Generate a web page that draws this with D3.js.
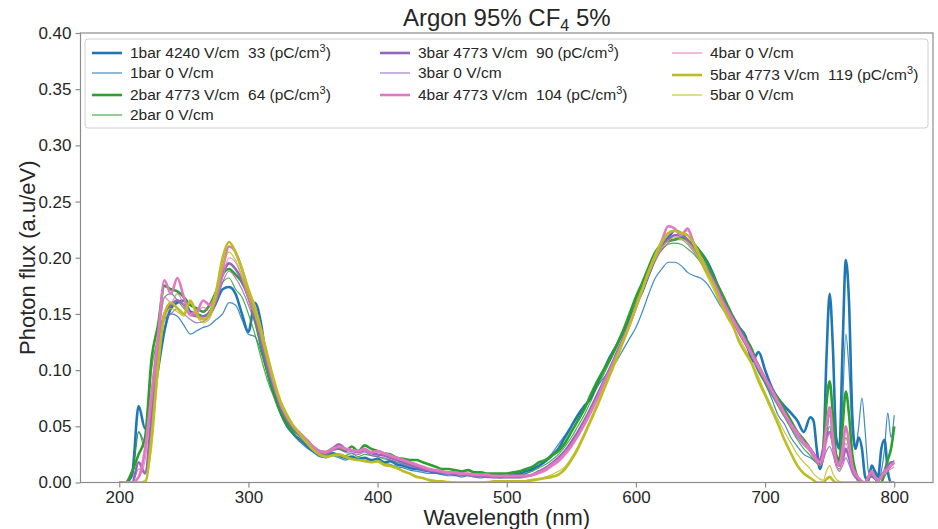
<!DOCTYPE html>
<html lang="en">
<head>
<meta charset="UTF-8">
<title>Argon 95% CF4 5%</title>
<script src="https://d3js.org/d3.v7.min.js"></script>
<style>
  body { margin: 0; background: #fff; }
  svg text { font-family: "Liberation Sans", Arial, sans-serif; fill: #262626; }
</style>
</head>
<body>
<div id="chart"></div>
<script>
// sampling grid (nm): 5 nm steps, 2.5 nm in the noisy tail
const wavelength = d3.range(200, 736, 5).concat(d3.range(737.5, 800.1, 2.5));

const xTicks = [200, 300, 400, 500, 600, 700, 800];
const yTicks = [0, 0.05, 0.10, 0.15, 0.20, 0.25, 0.30, 0.35, 0.40];

// photon flux (a.u/eV)
const flux1bar4240 = [
  0, 0, .008, .068, .048, .062, .100, .135, .155, .160,
  .162, .152, .150, .148, .150, .160, .172, .174, .168, .150,
  .134, .160, .140, .098, .078, .062, .050, .043, .038, .033,
  .028, .025, .024, .026, .024, .022, .023, .021, .022, .020,
  .021, .018, .019, .016, .015, .013, .012, .011, .010, .009,
  .008, .009, .007, .008, .007, .006, .007, .006, .006, .007,
  .006, .007, .008, .010, .012, .015, .019, .024, .030, .040,
  .050, .060, .068, .075, .088, .100, .112, .122, .133, .145,
  .158, .170, .185, .200, .212, .218, .224, .222, .215, .210,
  .205, .197, .185, .170, .158, .147, .138, .130, .108, .116,
  .100, .085, .075, .068, .062, .055, .045, .058,
  .055, .030, .012, .025, .110, .168, .120, .040, .030, .120, .198, .160, .060,
  .030, .040, .030, .005, .002, .015, .010, .005, .030, .038, .010, 0, 0
];
const flux1bar0 = [
  0, 0, .005, .045, .036, .070, .115, .145, .150, .148,
  .140, .132, .135, .138, .140, .145, .150, .160, .158, .145,
  .132, .130, .115, .095, .078, .062, .050, .042, .036, .031,
  .027, .023, .022, .024, .022, .020, .022, .020, .020, .018,
  .019, .017, .016, .014, .013, .011, .010, .009, .008, .008,
  .007, .006, .006, .005, .006, .005, .004, .005, .005, .004,
  .005, .005, .006, .008, .011, .015, .020, .026, .034, .042,
  .050, .058, .066, .075, .085, .093, .100, .108, .118, .128,
  .138, .152, .168, .182, .190, .196, .196, .193, .187, .184,
  .182, .177, .168, .158, .150, .143, .132, .122, .110, .098,
  .088, .075, .060, .052, .040, .032, .025, .022,
  .020, .018, .015, .020, .040, .060, .035, .015, .020, .070, .132, .100, .045,
  .030, .050, .075, .045, .010, .005, .003, 0, .010, .030, .062, .040, .060
];
const flux2bar4773 = [
  0, 0, .010, .025, .040, .110, .140, .175, .172, .170,
  .165, .158, .155, .152, .158, .170, .185, .190, .185, .178,
  .165, .145, .120, .098, .080, .065, .053, .046, .042, .038,
  .032, .028, .027, .030, .030, .028, .032, .028, .033, .030,
  .028, .026, .025, .022, .021, .020, .020, .018, .016, .014,
  .012, .012, .011, .010, .011, .009, .009, .008, .008, .008,
  .008, .009, .010, .012, .014, .018, .020, .024, .028, .035,
  .045, .055, .065, .078, .090, .100, .110, .122, .135, .150,
  .165, .178, .192, .205, .212, .215, .216, .218, .215, .212,
  .205, .195, .183, .172, .160, .148, .138, .128, .118, .100,
  .092, .082, .075, .065, .055, .045, .038, .030,
  .025, .020, .018, .030, .070, .090, .060, .025, .020, .050, .081, .060, .025,
  .010, .003, 0, 0, .005, .010, .005, 0, 0, .010, .020, .030, .050
];
const flux2bar0 = [
  0, 0, .008, .045, .030, .100, .130, .165, .168, .162,
  .155, .150, .150, .148, .152, .162, .178, .182, .172, .165,
  .150, .132, .110, .090, .075, .060, .050, .043, .038, .034,
  .030, .026, .024, .026, .025, .024, .026, .023, .025, .024,
  .023, .021, .020, .018, .017, .015, .014, .013, .011, .010,
  .009, .009, .008, .008, .007, .007, .006, .006, .006, .006,
  .006, .006, .007, .008, .010, .013, .016, .020, .025, .032,
  .040, .050, .060, .072, .085, .096, .108, .120, .133, .148,
  .162, .175, .188, .200, .207, .212, .213, .212, .208, .203,
  .196, .186, .176, .165, .155, .145, .135, .124, .113, .100,
  .088, .078, .068, .058, .048, .038, .030, .024,
  .020, .017, .015, .020, .040, .050, .030, .015, .012, .025, .040, .030, .012,
  .005, 0, 0, 0, .003, .005, .003, 0, 0, .005, .010, .015, .020
];
const flux3bar4773 = [
  0, 0, 0, .018, .008, .060, .120, .150, .158, .162,
  .158, .150, .148, .148, .152, .165, .185, .195, .190, .180,
  .165, .150, .128, .105, .085, .068, .056, .048, .042, .036,
  .030, .027, .026, .030, .034, .030, .028, .027, .029, .026,
  .025, .024, .022, .020, .018, .016, .014, .012, .011, .010,
  .009, .008, .008, .007, .007, .006, .006, .005, .005, .005,
  .005, .005, .005, .006, .007, .010, .013, .017, .022, .028,
  .036, .045, .055, .066, .078, .090, .102, .115, .128, .142,
  .157, .172, .186, .200, .210, .216, .220, .220, .216, .208,
  .200, .190, .180, .168, .156, .146, .136, .126, .115, .104,
  .093, .082, .072, .062, .052, .043, .036, .030,
  .026, .022, .020, .030, .040, .045, .035, .020, .015, .020, .030, .022, .012,
  .006, .003, 0, 0, .004, .008, .004, .002, .006, .010, .015, .018, .018
];
const flux3bar0 = [
  0, 0, 0, .012, .010, .050, .110, .145, .150, .155,
  .150, .145, .142, .143, .148, .160, .178, .188, .182, .172,
  .158, .142, .122, .100, .082, .066, .055, .047, .040, .034,
  .029, .026, .025, .028, .030, .027, .026, .025, .027, .024,
  .023, .022, .020, .018, .016, .014, .013, .011, .010, .009,
  .008, .007, .007, .006, .006, .005, .005, .005, .004, .004,
  .004, .004, .004, .005, .006, .008, .011, .015, .020, .026,
  .034, .043, .053, .064, .076, .088, .100, .113, .126, .140,
  .155, .170, .184, .197, .207, .213, .216, .216, .212, .205,
  .197, .187, .176, .164, .152, .142, .132, .122, .111, .100,
  .090, .079, .069, .059, .049, .040, .033, .027,
  .022, .018, .016, .020, .028, .032, .025, .015, .010, .015, .022, .016, .008,
  .004, .002, 0, 0, .003, .006, .003, .001, .004, .008, .012, .015, .016
];
const flux4bar4773 = [
  0, 0, 0, .005, .030, .080, .130, .180, .168, .182,
  .165, .150, .152, .162, .158, .168, .190, .210, .205, .190,
  .170, .155, .135, .110, .088, .070, .058, .050, .044, .038,
  .032, .028, .027, .030, .032, .030, .029, .028, .030, .027,
  .028, .026, .024, .022, .020, .018, .016, .014, .012, .011,
  .010, .009, .009, .008, .008, .007, .007, .007, .006, .006,
  .006, .006, .006, .006, .007, .009, .012, .016, .020, .026,
  .033, .042, .052, .063, .075, .088, .100, .113, .126, .140,
  .156, .172, .188, .202, .215, .228, .226, .220, .226, .212,
  .200, .188, .178, .166, .155, .145, .135, .125, .114, .103,
  .093, .083, .072, .062, .052, .044, .036, .030,
  .025, .020, .018, .025, .050, .067, .040, .020, .015, .030, .050, .035, .015,
  .008, .004, .001, 0, .005, .010, .005, .002, .005, .010, .012, .015, .018
];
const flux4bar0 = [
  0, 0, 0, .004, .020, .070, .120, .165, .160, .168,
  .158, .148, .150, .156, .152, .162, .182, .200, .196, .182,
  .162, .148, .128, .105, .085, .068, .057, .049, .043, .037,
  .031, .027, .026, .029, .031, .029, .028, .027, .029, .026,
  .027, .025, .023, .021, .019, .017, .015, .013, .011, .010,
  .009, .008, .008, .007, .007, .006, .006, .006, .005, .005,
  .005, .005, .005, .005, .006, .008, .010, .014, .018, .024,
  .031, .040, .050, .061, .073, .086, .099, .112, .125, .139,
  .154, .170, .186, .200, .212, .220, .224, .222, .224, .214,
  .202, .190, .178, .166, .154, .143, .133, .123, .112, .101,
  .091, .081, .070, .060, .050, .042, .034, .028,
  .022, .018, .015, .020, .035, .045, .030, .015, .010, .020, .035, .025, .012,
  .006, .003, .001, 0, .004, .008, .004, .002, .004, .008, .010, .012, .014
];
const flux5bar4773 = [
  0, 0, 0, 0, 0, .040, .105, .150, .160, .155,
  .150, .162, .150, .145, .150, .170, .200, .214, .205, .190,
  .172, .156, .135, .112, .090, .072, .060, .050, .043, .036,
  .029, .025, .023, .024, .025, .023, .021, .020, .019, .018,
  .019, .016, .015, .013, .010, .008, .005, .004, .002, .001,
  .001, 0, 0, 0, 0, 0, 0, 0, .001, .001,
  .001, .001, .001, .001, .002, .003, .004, .005, .007, .012,
  .020, .030, .042, .055, .068, .082, .096, .110, .125, .140,
  .156, .172, .188, .202, .214, .222, .224, .222, .220, .212,
  .200, .188, .176, .162, .150, .140, .125, .115, .105, .090,
  .078, .065, .052, .038, .026, .015, .008, .004,
  .002, 0, 0, 0, .003, .005, .002, 0, 0, 0, 0, 0, 0,
  0, 0, 0, 0, 0, 0, 0, 0, 0, 0, 0, 0, 0
];
const flux5bar0 = [
  0, 0, 0, 0, .002, .030, .095, .145, .155, .152,
  .148, .160, .148, .142, .146, .165, .192, .205, .198, .184,
  .166, .150, .130, .108, .088, .070, .058, .049, .042, .035,
  .029, .025, .022, .024, .024, .022, .021, .020, .019, .018,
  .018, .015, .014, .012, .010, .008, .006, .004, .003, .002,
  .001, .001, 0, 0, 0, 0, 0, .001, .001, .001,
  .001, .001, .001, .002, .003, .003, .005, .007, .010, .014,
  .022, .032, .044, .057, .070, .084, .098, .112, .126, .141,
  .156, .171, .186, .199, .209, .215, .218, .217, .214, .207,
  .196, .184, .172, .160, .148, .138, .128, .118, .106, .094,
  .080, .068, .056, .045, .035, .025, .018, .012,
  .008, .005, .003, .002, .010, .015, .008, .003, .001, 0, 0, 0, 0,
  0, 0, 0, 0, 0, 0, 0, 0, 0, 0, 0, 0, 0
];

const blue = "#1f77b4", green = "#2ca02c", purple = "#9467bd", pink = "#e377c2", olive = "#bcbd22";

// label parts: main text, optional superscript
const series = [
  { values: flux1bar4240, color: blue,   thick: true,  label: "1bar 4240 V/cm  33 (pC/cm", sup: "3" },
  { values: flux1bar0,    color: blue,   thick: false, label: "1bar 0 V/cm" },
  { values: flux2bar4773, color: green,  thick: true,  label: "2bar 4773 V/cm  64 (pC/cm", sup: "3" },
  { values: flux2bar0,    color: green,  thick: false, label: "2bar 0 V/cm" },
  { values: flux3bar4773, color: purple, thick: true,  label: "3bar 4773 V/cm  90 (pC/cm", sup: "3" },
  { values: flux3bar0,    color: purple, thick: false, label: "3bar 0 V/cm" },
  { values: flux4bar4773, color: pink,   thick: true,  label: "4bar 4773 V/cm  104 (pC/cm", sup: "3" },
  { values: flux4bar0,    color: pink,   thick: false, label: "4bar 0 V/cm" },
  { values: flux5bar4773, color: olive,  thick: true,  label: "5bar 4773 V/cm  119 (pC/cm", sup: "3" },
  { values: flux5bar0,    color: olive,  thick: false, label: "5bar 0 V/cm" }
];

const W = 938, H = 529;
const margin = { top: 33, right: 5, bottom: 46.5, left: 80.5 };
const width = W - margin.left - margin.right,
      height = H - margin.top - margin.bottom;

const svg = d3.select("#chart").append("svg")
    .attr("width", W)
    .attr("height", H);

const x = d3.scaleLinear().domain([170, 830]).range([0, width]);
const y = d3.scaleLinear().domain([0, 0.4]).range([height, 0]);

const g = svg.append("g")
    .attr("transform", `translate(${margin.left},${margin.top})`);

g.append("clipPath").attr("id", "plot-clip")
  .append("rect").attr("width", width).attr("height", height);

// lines
const line = d3.line()
    .x((d, i) => x(wavelength[i]))
    .y(d => y(d))
    .curve(d3.curveMonotoneX);

g.append("g").attr("clip-path", "url(#plot-clip)")
  .selectAll("path")
  .data(series)
  .join("path")
    .attr("d", d => line(d.values))
    .attr("fill", "none")
    .attr("stroke", d => d.color)
    .attr("stroke-width", d => d.thick ? 2.6 : 1.2)
    .attr("stroke-opacity", d => d.thick ? 1 : 0.85)
    .attr("stroke-linejoin", "round");

// axes
const spine = "#8c8c8c";
const xAxis = g.append("g")
    .attr("transform", `translate(0,${height})`)
    .call(d3.axisBottom(x).tickValues(xTicks).tickSize(5).tickPadding(3).tickFormat(d3.format("d")));
const yAxis = g.append("g")
    .call(d3.axisLeft(y).tickValues(yTicks).tickSize(5).tickPadding(4).tickFormat(d3.format(".2f")));

[xAxis, yAxis].forEach(a => {
  a.select(".domain").remove();
  a.selectAll(".tick line").attr("stroke", spine).attr("stroke-width", 1.2);
  a.selectAll(".tick text").attr("font-size", 17).attr("fill", "#262626")
    .style("font-family", '"Liberation Sans", Arial, sans-serif');
});

g.append("rect")
    .attr("width", width)
    .attr("height", height)
    .attr("fill", "none")
    .attr("stroke", spine)
    .attr("stroke-width", 1.2);

// title and labels
const title = svg.append("text")
    .attr("x", margin.left + width / 2)
    .attr("y", 26)
    .attr("text-anchor", "middle")
    .attr("font-size", 24);
title.append("tspan").text("Argon 95% CF");
title.append("tspan").attr("font-size", 16).attr("dy", 5).text("4");
title.append("tspan").attr("dy", -5).text(" 5%");

svg.append("text")
    .attr("x", margin.left + width / 2)
    .attr("y", 525)
    .attr("text-anchor", "middle")
    .attr("font-size", 22)
    .text("Wavelength (nm)");

svg.append("text")
    .attr("transform", `translate(35,${margin.top + height / 2}) rotate(-90)`)
    .attr("text-anchor", "middle")
    .attr("font-size", 22)
    .text("Photon flux (a.u/eV)");

// legend: 3 columns (4, 3, 3)
const legend = svg.append("g");
legend.append("rect")
    .attr("x", 85).attr("y", 39)
    .attr("width", 843).attr("height", 89)
    .attr("rx", 3)
    .attr("fill", "#fff").attr("fill-opacity", 0.85)
    .attr("stroke", "#d0d0d0");

const columns = [series.slice(0, 4), series.slice(4, 7), series.slice(7, 10)];
const colX = [92, 380, 672];

columns.forEach((col, ci) => {
  let ry = 53;
  col.forEach((s, ri) => {
    if (ri > 0) ry += 20 + (s.sup ? 2 : 0);
    const item = legend.append("g").attr("transform", `translate(${colX[ci]},${ry})`);
    item.append("line")
        .attr("x1", 0).attr("x2", 30)
        .attr("stroke", s.color)
        .attr("stroke-width", s.thick ? 2.6 : 1.2)
        .attr("stroke-opacity", s.thick ? 1 : 0.85);
    const t = item.append("text")
        .attr("x", 38).attr("y", 5)
        .attr("font-size", 15.5)
        .style("white-space", "pre");
    t.append("tspan").text(s.label);
    if (s.sup) {
      t.append("tspan").attr("font-size", 11).attr("dy", -6).text(s.sup);
      t.append("tspan").attr("dy", 6).text(")");
    }
  });
});
</script>
</body>
</html>
